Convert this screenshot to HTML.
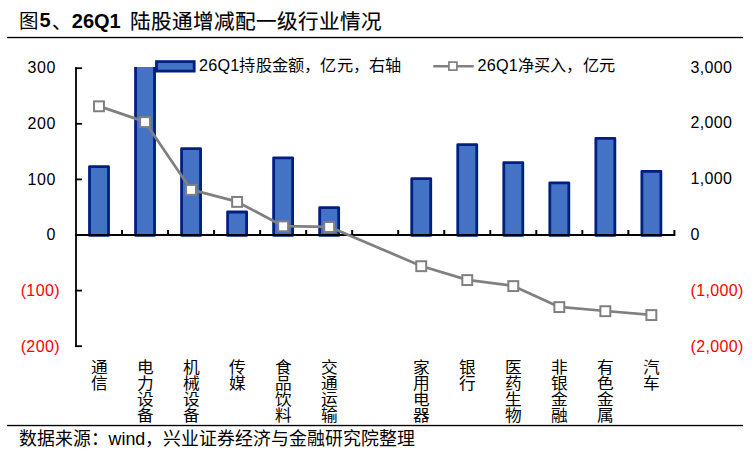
<!DOCTYPE html>
<html lang="zh-CN"><head><meta charset="utf-8"><style>
html,body{margin:0;padding:0;background:#fff;}
body{width:755px;height:452px;position:relative;overflow:hidden;font-family:"Liberation Sans",sans-serif;color:#000;}
.t{position:absolute;white-space:nowrap;line-height:1.2;}
.ra{text-align:right;}
.cat{font-size:15.6px;line-height:15.9px;width:16px;text-align:center;transform:scaleX(1.07);transform-origin:50% 0;}
</style></head><body>
<svg width="755" height="452" style="position:absolute;left:0;top:0">
<defs><clipPath id="pc"><rect x="60" y="67" width="640" height="300"/></clipPath></defs>
<rect x="7" y="36.85" width="736" height="1.35" fill="#000"/>
<rect x="7" y="424.85" width="736" height="1.35" fill="#000"/>
<g clip-path="url(#pc)">
<rect x="89.52" y="166.60" width="19.00" height="68.80" fill="#4472C4" stroke="#002080" stroke-width="2.8" stroke-linejoin="round"/>
<rect x="135.55" y="61.40" width="19.00" height="174.00" fill="#4472C4" stroke="#002080" stroke-width="2.8" stroke-linejoin="round"/>
<rect x="181.57" y="148.70" width="19.00" height="86.70" fill="#4472C4" stroke="#002080" stroke-width="2.8" stroke-linejoin="round"/>
<rect x="227.61" y="212.00" width="19.00" height="23.40" fill="#4472C4" stroke="#002080" stroke-width="2.8" stroke-linejoin="round"/>
<rect x="273.63" y="157.80" width="19.00" height="77.60" fill="#4472C4" stroke="#002080" stroke-width="2.8" stroke-linejoin="round"/>
<rect x="319.67" y="207.70" width="19.00" height="27.70" fill="#4472C4" stroke="#002080" stroke-width="2.8" stroke-linejoin="round"/>
<rect x="411.73" y="178.70" width="19.00" height="56.70" fill="#4472C4" stroke="#002080" stroke-width="2.8" stroke-linejoin="round"/>
<rect x="457.75" y="144.70" width="19.00" height="90.70" fill="#4472C4" stroke="#002080" stroke-width="2.8" stroke-linejoin="round"/>
<rect x="503.79" y="162.60" width="19.00" height="72.80" fill="#4472C4" stroke="#002080" stroke-width="2.8" stroke-linejoin="round"/>
<rect x="549.82" y="182.80" width="19.00" height="52.60" fill="#4472C4" stroke="#002080" stroke-width="2.8" stroke-linejoin="round"/>
<rect x="595.85" y="138.30" width="19.00" height="97.10" fill="#4472C4" stroke="#002080" stroke-width="2.8" stroke-linejoin="round"/>
<rect x="641.88" y="171.30" width="19.00" height="64.10" fill="#4472C4" stroke="#002080" stroke-width="2.8" stroke-linejoin="round"/>
</g>
<g stroke="#000" stroke-width="1.8" fill="none">
<line x1="76" y1="67.3" x2="76" y2="347"/>
<line x1="75.1" y1="68.20" x2="82" y2="68.20"/>
<line x1="75.1" y1="123.80" x2="82" y2="123.80"/>
<line x1="75.1" y1="179.40" x2="82" y2="179.40"/>
<line x1="75.1" y1="235.00" x2="82" y2="235.00"/>
<line x1="75.1" y1="290.60" x2="82" y2="290.60"/>
<line x1="75.1" y1="346.20" x2="82" y2="346.20"/>
</g>
<g stroke="#000" stroke-width="2" fill="none">
<line x1="75.1" y1="235" x2="674.3" y2="235"/>
<line x1="122.03" y1="230" x2="122.03" y2="236"/>
<line x1="168.06" y1="230" x2="168.06" y2="236"/>
<line x1="214.09" y1="230" x2="214.09" y2="236"/>
<line x1="260.12" y1="230" x2="260.12" y2="236"/>
<line x1="306.15" y1="230" x2="306.15" y2="236"/>
<line x1="352.18" y1="230" x2="352.18" y2="236"/>
<line x1="398.21" y1="230" x2="398.21" y2="236"/>
<line x1="444.24" y1="230" x2="444.24" y2="236"/>
<line x1="490.27" y1="230" x2="490.27" y2="236"/>
<line x1="536.30" y1="230" x2="536.30" y2="236"/>
<line x1="582.33" y1="230" x2="582.33" y2="236"/>
<line x1="628.36" y1="230" x2="628.36" y2="236"/>
<line x1="674.39" y1="230" x2="674.39" y2="236"/>
</g>
<polyline points="99.02,106.10 145.05,121.90 191.07,189.70 237.11,201.70 283.13,226.10 329.17,226.80 421.23,266.00 467.25,279.90 513.29,285.90 559.32,306.90 605.35,311.00 651.38,314.90" fill="none" stroke="#808080" stroke-width="2.75" stroke-linejoin="round"/>
<rect x="94.06" y="101.35" width="9.9" height="9.9" fill="#fff" stroke="#808080" stroke-width="2"/>
<rect x="140.10" y="117.15" width="9.9" height="9.9" fill="#fff" stroke="#808080" stroke-width="2"/>
<rect x="186.12" y="184.95" width="9.9" height="9.9" fill="#fff" stroke="#808080" stroke-width="2"/>
<rect x="232.16" y="196.95" width="9.9" height="9.9" fill="#fff" stroke="#808080" stroke-width="2"/>
<rect x="278.19" y="221.35" width="9.9" height="9.9" fill="#fff" stroke="#808080" stroke-width="2"/>
<rect x="324.22" y="222.05" width="9.9" height="9.9" fill="#fff" stroke="#808080" stroke-width="2"/>
<rect x="416.28" y="261.25" width="9.9" height="9.9" fill="#fff" stroke="#808080" stroke-width="2"/>
<rect x="462.31" y="275.15" width="9.9" height="9.9" fill="#fff" stroke="#808080" stroke-width="2"/>
<rect x="508.34" y="281.15" width="9.9" height="9.9" fill="#fff" stroke="#808080" stroke-width="2"/>
<rect x="554.37" y="302.15" width="9.9" height="9.9" fill="#fff" stroke="#808080" stroke-width="2"/>
<rect x="600.39" y="306.25" width="9.9" height="9.9" fill="#fff" stroke="#808080" stroke-width="2"/>
<rect x="646.42" y="310.15" width="9.9" height="9.9" fill="#fff" stroke="#808080" stroke-width="2"/>
<rect x="156.5" y="61.6" width="37.7" height="9.5" fill="#4472C4" stroke="#002080" stroke-width="2.8"/>
<line x1="433.3" y1="66.2" x2="473.7" y2="66.2" stroke="#808080" stroke-width="2.5"/>
<rect x="448.9" y="62.1" width="8" height="8" fill="#fff" stroke="#808080" stroke-width="1.7"/>
</svg>
<div class="t" style="left:19px;top:8.9px;font-size:19.5px;line-height:24px;">图</div>
<div class="t" style="left:39.4px;top:8.1px;font-size:20px;line-height:24px;font-weight:bold;">5</div>
<div class="t" style="left:52.3px;top:10.3px;font-size:19.5px;line-height:24px;">、</div>
<div class="t" style="left:71.8px;top:8.5px;font-size:20px;line-height:24px;font-weight:bold;">26Q1</div>
<div class="t" style="left:129.5px;top:9.5px;font-size:20.6px;line-height:24px;-webkit-text-stroke:0.15px #000;letter-spacing:0.05px;">陆股通增减配一级行业情况</div>
<div class="t" style="left:18.5px;top:427.5px;font-size:17.9px;line-height:22px;">数据来源：wind，兴业证券经济与金融研究院整理</div>
<div class="t" style="left:199px;top:55px;font-size:16.2px;line-height:20px;letter-spacing:0.2px;">26Q1持股金额，亿元，右轴</div>
<div class="t" style="left:477.5px;top:55px;font-size:16.2px;line-height:20px;letter-spacing:0.2px;">26Q1净买入，亿元</div>
<div class="t ra" style="right:699.0px;top:58.4px;color:#000;font-size:16px;letter-spacing:0.6px">300</div>
<div class="t ra" style="right:699.0px;top:114.0px;color:#000;font-size:16px;letter-spacing:0.6px">200</div>
<div class="t ra" style="right:699.0px;top:169.6px;color:#000;font-size:16px;letter-spacing:0.6px">100</div>
<div class="t ra" style="right:699.0px;top:225.2px;color:#000;font-size:16px;letter-spacing:0.6px">0</div>
<div class="t ra" style="right:695.0px;top:281.0px;color:#f00;font-size:16px;letter-spacing:0.4px">(100)</div>
<div class="t ra" style="right:695.0px;top:336.6px;color:#f00;font-size:16px;letter-spacing:0.4px">(200)</div>
<div class="t" style="left:690.5px;top:57.7px;color:#000;font-size:16px;letter-spacing:0.35px">3,000</div>
<div class="t" style="left:690.5px;top:113.3px;color:#000;font-size:16px;letter-spacing:0.35px">2,000</div>
<div class="t" style="left:690.5px;top:168.9px;color:#000;font-size:16px;letter-spacing:0.35px">1,000</div>
<div class="t" style="left:690.5px;top:224.5px;color:#000;font-size:16px;letter-spacing:0.35px">0</div>
<div class="t" style="left:690.5px;top:281.3px;color:#f00;font-size:16px;letter-spacing:0.35px">(1,000)</div>
<div class="t" style="left:690.5px;top:336.9px;color:#f00;font-size:16px;letter-spacing:0.35px">(2,000)</div>
<div class="t cat" style="left:91.7px;top:360px">通<br>信</div>
<div class="t cat" style="left:137.7px;top:360px">电<br>力<br>设<br>备</div>
<div class="t cat" style="left:183.8px;top:360px">机<br>械<br>设<br>备</div>
<div class="t cat" style="left:229.8px;top:360px">传<br>媒</div>
<div class="t cat" style="left:275.8px;top:360px">食<br>品<br>饮<br>料</div>
<div class="t cat" style="left:321.9px;top:360px">交<br>通<br>运<br>输</div>
<div class="t cat" style="left:413.9px;top:360px">家<br>用<br>电<br>器</div>
<div class="t cat" style="left:460.0px;top:360px">银<br>行</div>
<div class="t cat" style="left:506.0px;top:360px">医<br>药<br>生<br>物</div>
<div class="t cat" style="left:552.0px;top:360px">非<br>银<br>金<br>融</div>
<div class="t cat" style="left:598.0px;top:360px">有<br>色<br>金<br>属</div>
<div class="t cat" style="left:644.1px;top:360px">汽<br>车</div>
</body></html>
